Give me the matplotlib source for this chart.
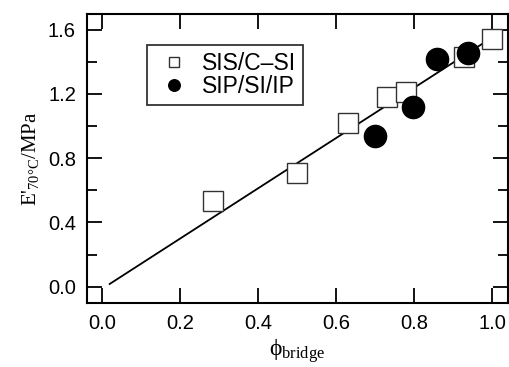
import matplotlib
matplotlib.use("Agg")
import matplotlib.pyplot as plt
from matplotlib.ticker import MultipleLocator

# SIS/C-SI samples (open squares)
sis_x = [0.285, 0.499, 0.630, 0.730, 0.780, 0.929, 1.000]
sis_y = [0.535, 0.710, 1.020, 1.183, 1.214, 1.432, 1.540]

# SIP/SI/IP samples (filled circles)
sip_x = [0.700, 0.798, 0.860, 0.939]
sip_y = [0.938, 1.120, 1.420, 1.453]

# linear fit line endpoints
fit_x = [0.020, 0.993]
fit_y = [0.017, 1.540]

x_ticks = [0.0, 0.2, 0.4, 0.6, 0.8, 1.0]
y_ticks = [0.0, 0.4, 0.8, 1.2, 1.6]

plt.rcParams['font.family'] = ['Liberation Sans', 'DejaVu Sans']
plt.rcParams['mathtext.fontset'] = 'custom'
plt.rcParams['mathtext.rm'] = 'Liberation Serif'
plt.rcParams['mathtext.it'] = 'Liberation Serif:italic'

fig = plt.figure(figsize=(5.09, 3.67), dpi=100)
ax = fig.add_axes([0.171, 0.175, 0.827, 0.787])

ax.plot(fit_x, fit_y, color='black', lw=1.3, zorder=2)
ax.plot(sis_x, sis_y, 's', ms=15, mfc='white', mec='#333333', mew=1.0,
        label='SIS/C\u2013SI', zorder=3)
ax.plot(sip_x, sip_y, 'o', ms=16, mfc='black', mec='black',
        label='SIP/SI/IP', zorder=4)

ax.set_xlim(-0.038, 1.041)
ax.set_ylim(-0.1, 1.698)
ax.set_xticks(x_ticks)
ax.set_yticks(y_ticks)
ax.yaxis.set_minor_locator(MultipleLocator(0.2))

ax.tick_params(which='both', direction='in', top=True, right=True,
               labelsize=14.5, width=1.3, pad=8)
ax.tick_params(which='major', length=11)
ax.tick_params(which='minor', length=7)
for s in ax.spines.values():
    s.set_linewidth(1.5)

ax.set_xlabel(r'$\mathrm{\phi_{bridge}}$', fontsize=17, labelpad=3)
ax.set_ylabel(r"E'$_{\mathrm{70°C}}$/MPa", fontsize=15, family='Liberation Serif',
              labelpad=5)

leg = ax.legend(loc='upper left', bbox_to_anchor=(0.142, 0.893), fontsize=16.5,
                markerscale=0.52, frameon=True, fancybox=False, edgecolor='black',
                handletextpad=0.3, borderpad=0.3, labelspacing=0.02,
                handlelength=1.8, borderaxespad=0)
leg.get_frame().set_linewidth(1.3)

fig.savefig('out.png', dpi=100)
